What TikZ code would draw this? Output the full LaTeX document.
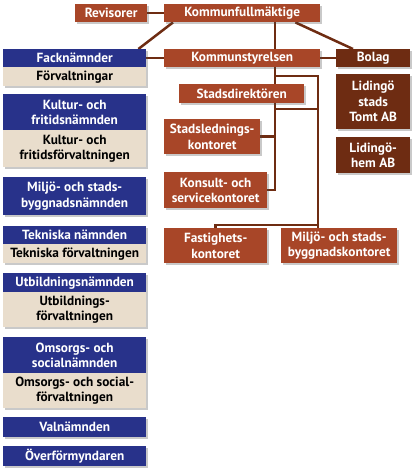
\documentclass[tikz,border=0pt]{standalone}
\usepackage{fontspec}
\setmainfont{PT Sans}
\usetikzlibrary{positioning,shadows,calc,backgrounds}
\definecolor{rust}{RGB}{168,70,40}
\definecolor{darkrust}{RGB}{110,44,18}
\definecolor{navy}{RGB}{40,50,138}
\definecolor{sand}{RGB}{233,221,204}

\begin{document}
\begin{tikzpicture}[
							x=1pt,
							y=-1pt,
							font=\fontsize{13.3}{15.5}\selectfont\bfseries,
							box/.style={anchor=north west, inner sep=0pt, align=center, text=white,
								drop shadow={shadow xshift=2pt, shadow yshift=-2pt, opacity=.3, fill=black!70}},
							kontor/.style={box, fill=rust},
							bolagbox/.style={box, fill=darkrust, minimum width=74pt},
							namnd/.style={box, fill=navy, minimum width=143pt},
							forvaltning/.style={box, fill=sand, text=black, minimum width=143pt},
							link/.style={draw=darkrust, line width=2.5pt}
						]
						\useasboundingbox (0,0) rectangle (420,475);
						% top row
						\node[kontor, minimum width=72pt, minimum height=18pt] (rev) at (75,4) {Revisorer};
						\node[kontor, minimum width=156pt, minimum height=18pt] (kf) at (164,4) {Kommunfullmäktige};
						% centre column
						\node[kontor, minimum width=156pt, minimum height=18pt] (ks) at (164,49) {Kommunstyrelsen};
						\node[kontor, minimum width=125pt, minimum height=19pt] (sd) at (179,84) {Stadsdirektören};
						\node[kontor, minimum width=96pt, minimum height=35pt] (sled) at (164,119) {Stadslednings-\\kontoret};
						\node[kontor, minimum width=103pt, minimum height=36pt] (konsult) at (164,172) {Konsult- och\\servicekontoret};
						\node[kontor, minimum width=103pt, minimum height=35pt] (fast) at (164,228) {Fastighets-\\kontoret};
						\node[kontor, minimum width=116pt, minimum height=35pt] (mbk) at (281,228) {Miljö- och stads-\\byggnadskontoret};
						% companies
						\node[bolagbox, minimum height=18pt] (bolag) at (336,49) {Bolag};
						\node[bolagbox, minimum height=55pt] (tomt) at (336,74) {Lidingö\\stads\\Tomt AB};
						\node[bolagbox, minimum height=36pt] (hem) at (336,137) {Lidingö-\\hem AB};
						% boards and administrations
						\node[namnd, minimum height=18pt] (fack) at (3,49) {Facknämnder};
						\node[forvaltning, minimum height=19pt] (fackf) at (3,67) {Förvaltningar};
						\node[namnd, minimum height=36pt] (kultur) at (3,94) {Kultur- och\\fritidsnämnden};
						\node[forvaltning, minimum height=37pt] (kulturf) at (3,130) {Kultur- och\\fritidsförvaltningen};
						\node[namnd, minimum height=38pt] (mbn) at (3,177) {Miljö- och stads-\\byggnadsnämnden};
						\node[namnd, minimum height=18pt] (tekn) at (3,226) {Tekniska nämnden};
						\node[forvaltning, minimum height=19pt] (teknf) at (3,244) {Tekniska förvaltningen};
						\node[namnd, minimum height=19pt] (utb) at (3,273) {Utbildningsnämnden};
						\node[forvaltning, minimum height=35pt] (utbf) at (3,292) {Utbildnings-\\förvaltningen};
						\node[namnd, minimum height=36pt] (oms) at (3,337) {Omsorgs- och\\socialnämnden};
						\node[forvaltning, minimum height=35pt] (omsf) at (3,373) {Omsorgs- och social-\\förvaltningen};
						\node[namnd, minimum height=20pt] (val) at (3,417) {Valnämnden};
						\node[namnd, minimum height=20pt] (over) at (3,446) {Överförmyndaren};
						% connectors
						\coordinate (spine) at (275,0);
						\coordinate (rail) at (318,0);
						\coordinate (top) at (275,76);
						\coordinate (mid) at (275,109);
						\coordinate (split) at (318,225);
						\begin{pgfonlayer}{background}
							\draw[link] (rev.east) -- (kf.west);
							\draw[link] ($(kf.south west)+(9,0)$) -- ($(fack.north east)+(-8,0)$);
							\draw[link] ($(kf.south east)+(-25,0)$) -- ($(bolag.north west)+(17,0)$);
							\draw[link] (kf.south -| spine) -- (ks.north -| spine);
							\draw[link] (fack.east) -- (ks.west);
							\draw[link] (ks.east) -- (bolag.west);
							\draw[link] (ks.south -| spine) |- (konsult.east);
							\draw[link] (sled.east) -- (sled.east -| spine);
							\draw[link] (top) -- (top -| rail) -- (mbk.north -| rail);
							\draw[link] (mid) -- (mid -| rail);
							\draw[link] (fast.north) |- (split);
						\end{pgfonlayer}
					\end{tikzpicture}
\end{document}
